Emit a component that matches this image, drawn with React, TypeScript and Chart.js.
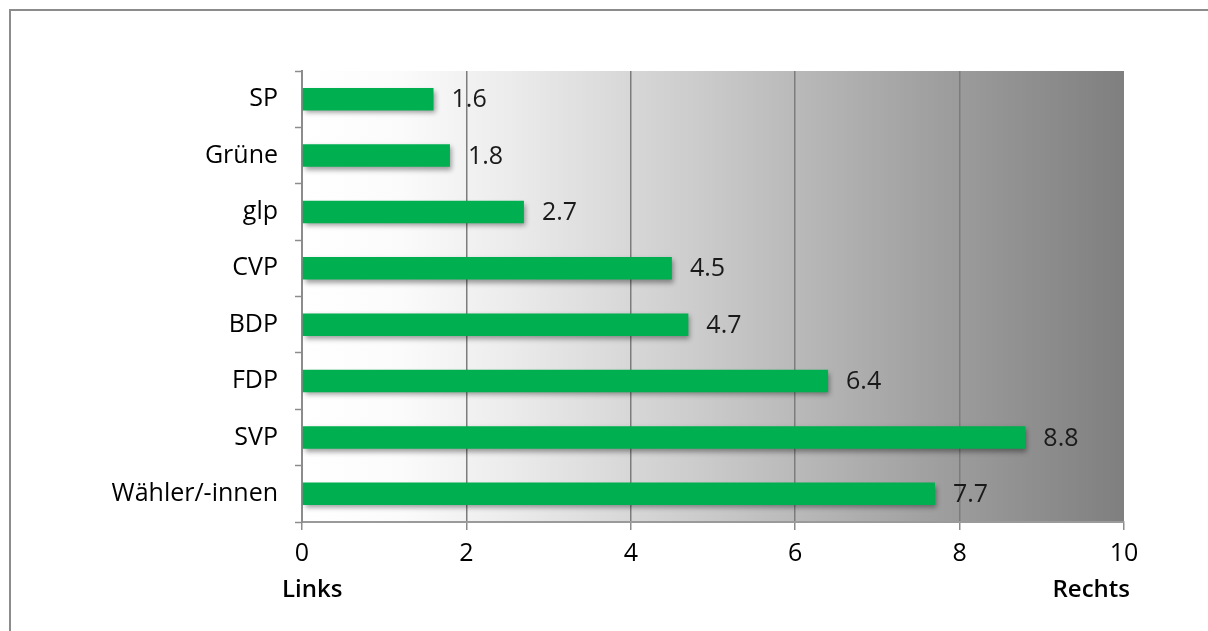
import React, { useEffect, useRef } from "react";
import { Chart, registerables } from "chart.js";

Chart.register(...registerables);

const categories = ["SP", "Grüne", "glp", "CVP", "BDP", "FDP", "SVP", "Wähler/-innen"];
const values = [1.6, 1.8, 2.7, 4.5, 4.7, 6.4, 8.8, 7.7];
const axisMin = 0;
const axisMax = 10;
const axisStep = 2;
const axisEndLabels = ["Links", "Rechts"];

const FONT = "'Open Sans', 'Noto Sans', sans-serif";
const FS = 25;

const bgPlugin = {
  id: "bgGradient",
  beforeDraw(chart: any) {
    const { ctx, chartArea } = chart;
    if (!chartArea) return;
    const g = ctx.createLinearGradient(chartArea.left, 0, chartArea.right, 0);
    g.addColorStop(0, "#ffffff");
    g.addColorStop(0.12, "#fbfbfb");
    g.addColorStop(0.25, "#ececec");
    g.addColorStop(0.5, "#c9c9c9");
    g.addColorStop(0.75, "#a2a2a2");
    g.addColorStop(1, "#7f7f7f");
    ctx.save();
    ctx.fillStyle = g;
    ctx.fillRect(chartArea.left, chartArea.top, chartArea.right - chartArea.left, chartArea.bottom - chartArea.top);
    ctx.restore();
  },
};

const shadowPlugin = {
  id: "barShadowAndLabels",
  beforeDatasetsDraw(chart: any) {
    const ctx = chart.ctx;
    ctx.save();
    ctx.shadowColor = "rgba(0,0,0,0.38)";
    ctx.shadowBlur = 5;
    ctx.shadowOffsetX = 2;
    ctx.shadowOffsetY = 3;
  },
  afterDatasetsDraw(chart: any) {
    const ctx = chart.ctx;
    ctx.restore();
    const meta = chart.getDatasetMeta(0);
    ctx.save();
    ctx.font = `${FS}px ${FONT}`;
    ctx.fillStyle = "#1a1a1a";
    ctx.textAlign = "left";
    ctx.textBaseline = "middle";
    meta.data.forEach((el: any, i: number) => {
      ctx.fillText(values[i].toFixed(1), el.x + 18, el.y + 1);
    });
    ctx.restore();
  },
};

const endLabelsPlugin = {
  id: "endLabels",
  afterDraw(chart: any) {
    const ctx = chart.ctx;
    const x = chart.scales.x;
    ctx.save();
    ctx.font = `600 ${FS - 1}px ${FONT}`;
    ctx.fillStyle = "#000000";
    ctx.textBaseline = "middle";
    ctx.textAlign = "left";
    ctx.fillText(axisEndLabels[0], x.getPixelForValue(axisMin) - 20, 590);
    ctx.textAlign = "right";
    ctx.fillText(axisEndLabels[1], x.getPixelForValue(axisMax) + 6, 590);
    ctx.restore();
  },
};

export default function App() {
  const ref = useRef<HTMLCanvasElement>(null);

  useEffect(() => {
    if (!ref.current) return;
    const chart = new Chart(ref.current, {
      type: "bar",
      data: {
        labels: categories,
        datasets: [
          {
            data: values,
            backgroundColor: "#00b050",
            borderWidth: 0,
            barPercentage: 0.4,
            categoryPercentage: 1,
          },
        ],
      },
      options: {
        indexAxis: "y",
        responsive: false,
        animation: false,
        devicePixelRatio: 1,
        layout: { padding: { left: 0, right: 84, top: 71, bottom: 0 } },
        plugins: {
          legend: { display: false },
          tooltip: { enabled: false },
        },
        scales: {
          x: {
            min: axisMin,
            max: axisMax,
            afterFit: (scale: any) => {
              scale.height = 109;
            },
            ticks: {
              stepSize: axisStep,
              color: "#000000",
              font: { family: FONT, size: FS },
              padding: 9,
            },
            grid: {
              color: (c: any) => (c.tick && (c.tick.value === axisMin || c.tick.value === axisMax) ? "rgba(0,0,0,0)" : "#7c7c7c"),
              lineWidth: 1.5,
              tickColor: "#8c8c8c",
              tickLength: 8,
              tickWidth: 1.5,
            },
            border: { color: "#9a9a9a", width: 2 },
          },
          y: {
            afterFit: (scale: any) => {
              scale.width = 302;
            },
            ticks: {
              color: "#000000",
              font: { family: FONT, size: FS },
              padding: 17,
            },
            grid: {
              drawOnChartArea: false,
              offset: true,
              tickColor: "#8c8c8c",
              tickLength: 7,
              tickWidth: 1.5,
            },
            border: { color: "#8c8c8c", width: 2 },
          },
        },
      },
      plugins: [bgPlugin, shadowPlugin, endLabelsPlugin],
    });
    return () => chart.destroy();
  }, []);

  return (
    <div style={{ position: "fixed", left: 0, top: 0, width: 1208, height: 631, background: "#fff", overflow: "hidden" }}>
      <div
        style={{
          position: "absolute",
          left: 9,
          top: 9,
          width: 1220,
          height: 640,
          borderLeft: "2px solid #8c8c8c",
          borderTop: "2px solid #8c8c8c",
        }}
      />
      <canvas ref={ref} width={1208} height={631} style={{ position: "absolute", left: 0, top: 0, width: 1208, height: 631 }} />
    </div>
  );
}
